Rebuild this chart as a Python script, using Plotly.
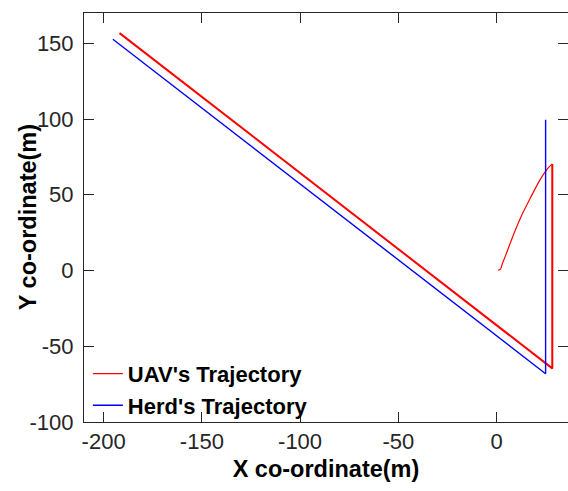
import plotly.graph_objects as go

# UAV trajectory: initial climb curve, then tracking segment
uav_curve_x = [0.7, 2.0, 2.9, 4.8, 8.3, 12.5, 17.3, 22.2, 25.8, 28.4]
uav_curve_y = [0.2, 0.9, 4.2, 10.5, 22.5, 35.5, 48.0, 60.0, 67.0, 70.4]
uav_track_x = [28.4, 28.4, -191.9]
uav_track_y = [70.4, -64.6, 156.7]

# Herd trajectory
herd_x = [25.0, 25.0, -195.3]
herd_y = [99.5, -68.1, 152.7]

x_ticks = [-200, -150, -100, -50, 0]
x_tick_text = ["-200", "-150", "-100", "-50", "0"]
y_ticks = [-100, -50, 0, 50, 100, 150]
y_tick_text = ["-100", "-50", "0", "50", "100", "150"]

RED = "#ff0000"
BLUE = "#0000ff"
AX = "#262626"
FONT = "Liberation Sans, Arial, sans-serif"

fig = go.Figure()
fig.add_trace(go.Scatter(x=uav_track_x, y=uav_track_y, mode="lines",
                         line=dict(color=RED, width=2.0), name="UAV's Trajectory",
                         legendgroup="uav", showlegend=False))
fig.add_trace(go.Scatter(x=uav_curve_x, y=uav_curve_y, mode="lines",
                         line=dict(color=RED, width=1.2, shape="spline", smoothing=0.8),
                         name="UAV's Trajectory", legendgroup="uav", showlegend=True))
fig.add_trace(go.Scatter(x=herd_x, y=herd_y, mode="lines",
                         line=dict(color=BLUE, width=1.4), name="Herd's Trajectory"))

fig.update_layout(
    width=568, height=491,
    margin=dict(l=84.3, r=0, t=13.3, b=68.7),
    paper_bgcolor="white", plot_bgcolor="white",
    font=dict(family=FONT, size=22, color=AX),
    showlegend=True,
    legend=dict(x=0.008, y=-0.012, xanchor="left", yanchor="bottom",
                bgcolor="rgba(0,0,0,0)", borderwidth=0,
                font=dict(family=FONT, size=22, color="black", weight="bold"),
                itemwidth=30, tracegroupgap=0),
    xaxis=dict(range=[-210, 36.4], tickvals=x_ticks, ticktext=x_tick_text,
               ticks="inside", ticklen=10, tickfont=dict(size=22, color=AX),
               tickcolor=AX, showline=True, linecolor=AX, linewidth=1, mirror="ticks",
               showgrid=False, zeroline=False,
               title=dict(text="X co-ordinate(m)", standoff=7,
                          font=dict(family=FONT, size=23.5, color="black", weight="bold"))),
    yaxis=dict(range=[-100, 170], tickvals=y_ticks, ticktext=y_tick_text,
               ticks="inside", ticklen=10, ticklabelstandoff=5,
               tickfont=dict(size=22, color=AX),
               tickcolor=AX, showline=True, linecolor=AX, linewidth=1, mirror="ticks",
               showgrid=False, zeroline=False),
    annotations=[dict(text="<b>Y co-ordinate(m)</b>", textangle=-90,
                      xref="paper", yref="paper", x=0, y=0.5,
                      xanchor="center", yanchor="middle", xshift=-56.3,
                      showarrow=False,
                      font=dict(family=FONT, size=23.5, color="black"))],
)

fig.write_html("out.html")
